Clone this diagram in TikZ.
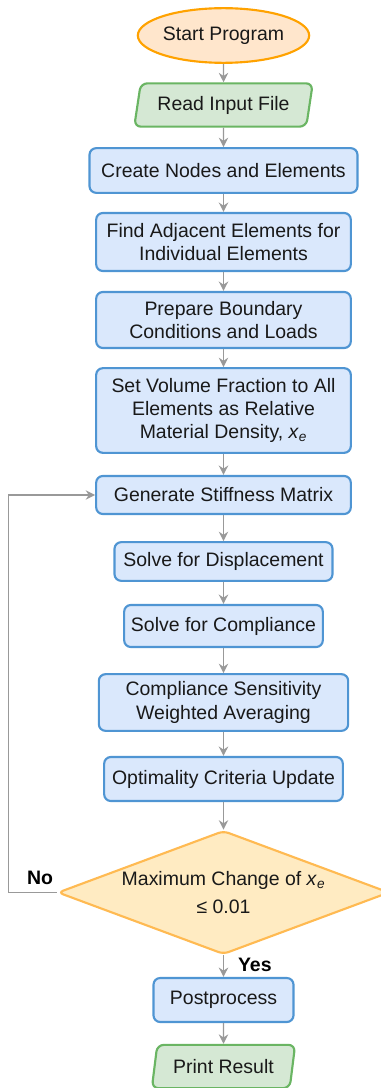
\documentclass[tikz,border=0pt]{standalone}
\usepackage{fontspec}
\setmainfont{Liberation Sans}
\usetikzlibrary{shapes.geometric,arrows.meta}
\definecolor{boxfill}{HTML}{DAE8FC}
\definecolor{boxline}{HTML}{4F95D3}
\definecolor{startfill}{HTML}{FFE6CC}
\definecolor{startline}{HTML}{FFA200}
\definecolor{iofill}{HTML}{D5E8D4}
\definecolor{ioline}{HTML}{6AB563}
\definecolor{decfill}{HTML}{FFEBC2}
\definecolor{decline}{HTML}{FFBA52}
\definecolor{flowgray}{HTML}{999999}
\tikzset{font={\fontsize{14.6pt}{17.5pt}\selectfont}}
\tikzset{
  process/.style={draw=boxline, fill=boxfill, line width=1.6pt, rounded corners=5pt,
    align=center, inner sep=0pt, text=black!90},
  io/.style={draw=ioline, fill=iofill, line width=1.6pt, rounded corners=5pt,
    trapezium, trapezium left angle=74, trapezium right angle=106,
    trapezium stretches=true, minimum height=32.5pt, inner sep=0pt, text=black!90},
  startstop/.style={draw=startline, fill=startfill, line width=1.6pt, ellipse,
    minimum width=127pt, minimum height=41pt, inner sep=0pt, text=black!90},
  decision/.style={draw=decline, fill=decfill, line width=1.6pt, diamond,
    rounded corners=4pt, aspect=2.68, inner sep=1.3pt, align=center, text=black!90},
  flow/.style={draw=flowgray, line width=1.1pt, -{Stealth[length=7pt,width=7pt]}},
}

\begin{document}
\begin{tikzpicture}[x=0.75pt, y=-0.75pt]
		\useasboundingbox (0,0) rectangle (381,1088);
		%Start and input
		\node[startstop] (start) at (223.5,35.5) {Start Program};
		\node[io, minimum width=134pt] (read) at (223.5,105) {Read Input File};
		%Setup boxes
		\node[process, minimum width=201pt, minimum height=33.5pt] (nodes) at (223.5,170.5) {Create Nodes and Elements};
		\node[process, minimum width=191pt, minimum height=43.5pt] (adj) at (223.5,242) {Find Adjacent Elements for\\Individual Elements};
		\node[process, minimum width=191pt, minimum height=42pt] (bc) at (223.5,320) {Prepare Boundary\\Conditions and Loads};
		\node[process, minimum width=191pt, minimum height=63.5pt] (vol) at (223.5,410.5) {Set Volume Fraction to All\\Elements as Relative\\Material Density, \textit{x}\textsubscript{\textit{e}}};
		%Optimisation loop
		\node[process, minimum width=191pt, minimum height=28.5pt] (gen) at (223.5,495) {Generate Stiffness Matrix};
		\node[process, minimum width=163.5pt, minimum height=29pt] (disp) at (223.5,561.5) {Solve for Displacement};
		\node[process, minimum width=149pt, minimum height=31.5pt] (comp) at (223.5,626) {Solve for Compliance};
		\node[process, minimum width=187pt, minimum height=42.5pt] (sens) at (223.5,702.5) {Compliance Sensitivity\\Weighted Averaging};
		\node[process, minimum width=179pt, minimum height=33pt] (oc) at (223.5,779) {Optimality Criteria Update};
		\node[decision] (dec) at (223.5,892.5) {Maximum Change of \textit{x}\textsubscript{\textit{e}}\\[4pt]≤ 0.01};
		%Output
		\node[process, minimum width=105pt, minimum height=33pt] (post) at (223.5,1000) {Postprocess};
		\node[io, minimum width=108pt] (print) at (223.5,1066.5) {Print Result};
		%Arrows
		\draw[flow] (start) -- (read);
		\draw[flow] (read) -- (nodes);
		\draw[flow] (nodes) -- (adj);
		\draw[flow] (adj) -- (bc);
		\draw[flow] (bc) -- (vol);
		\draw[flow] (vol) -- (gen);
		\draw[flow] (gen) -- (disp);
		\draw[flow] (disp) -- (comp);
		\draw[flow] (comp) -- (sens);
		\draw[flow] (sens) -- (oc);
		\draw[flow] (oc) -- (dec);
		\draw[flow] (dec) -- node[pos=0.45, right=7pt, font={\fontsize{14.6pt}{17.5pt}\selectfont\bfseries}] (yes) {Yes} (post);
		\draw[flow] (post) -- (print);
		\draw[flow] (dec.west) -- ++(-48,0) |- (gen.west);
		\node[font={\fontsize{14.6pt}{17.5pt}\selectfont\bfseries}] (no) at (40,878) {No};
\end{tikzpicture}
\end{document}
